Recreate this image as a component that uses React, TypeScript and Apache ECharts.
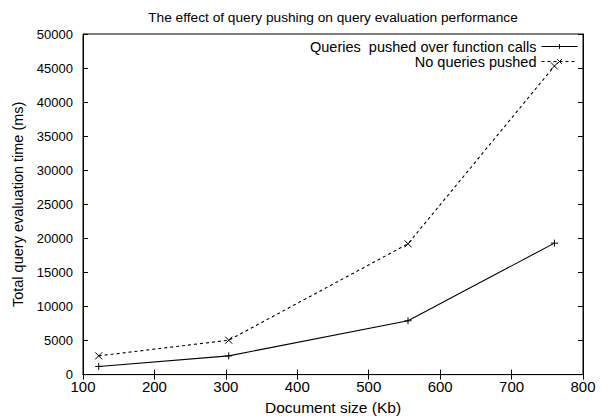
import React, { useEffect, useRef } from "react";
import * as echarts from "echarts";

const titleText = "The effect of query pushing on query evaluation performance";
const xName = "Document size (Kb)";
const yName = "Total query evaluation time (ms)";
const seriesNames = ["Queries  pushed over function calls", "No queries pushed"];
const docSizes = [122, 304, 555, 760];
const pushedValues = [1200, 2750, 7900, 19300];
const notPushedValues = [2750, 5050, 19200, 45300];

const plusSymbol = "path://M0,5L10,5M5,0L5,10";
const crossSymbol = "path://M0,0L10,10M0,10L10,0";

export default function App() {
  const ref = useRef<HTMLDivElement>(null);
  useEffect(() => {
    if (!ref.current) return;
    const chart = echarts.init(ref.current, null, { renderer: "svg" });
    const font = "'Liberation Sans', Arial, Helvetica, sans-serif";
    const axisCommon = {
      axisLine: { lineStyle: { color: "#000", width: 1 } },
      axisTick: { inside: true, length: 5, lineStyle: { color: "#000" } },
      splitLine: { show: false },
    };
    chart.setOption({
      animation: false,
      backgroundColor: "#fff",
      textStyle: { fontFamily: font, color: "#000" },
      title: {
        text: titleText,
        left: 333,
        textAlign: "center",
        top: 10,
        padding: 0,
        textStyle: { fontSize: 13.7, fontWeight: "normal", color: "#000", fontFamily: font },
      },
      legend: {
        orient: "vertical",
        right: 32,
        top: 39,
        padding: 0,
        align: "right",
        itemWidth: 36,
        itemHeight: 6,
        itemGap: 0,
        lineStyle: { width: 1 },
        itemStyle: { borderWidth: 1 },
        textStyle: { fontSize: 14.5, lineHeight: 12, color: "#000", fontFamily: font },
        data: seriesNames,
      },
      grid: {
        left: 83,
        right: 27,
        top: 34,
        bottom: 39,
        show: true,
        borderColor: "#000",
        borderWidth: 1,
      },
      xAxis: [
        {
          type: "value",
          min: 100,
          max: 800,
          interval: 100,
          name: xName,
          nameLocation: "middle",
          nameGap: 22,
          nameTextStyle: { fontSize: 15.5, color: "#000", fontFamily: font },
          axisLabel: { fontSize: 15, lineHeight: 12, color: "#000", fontFamily: font, margin: 6 },
          ...axisCommon,
        },
        {
          type: "value",
          position: "top",
          min: 100,
          max: 800,
          interval: 100,
          axisLabel: { show: false },
          ...axisCommon,
        },
      ],
      yAxis: [
        {
          type: "value",
          min: 0,
          max: 50000,
          interval: 5000,
          name: yName,
          nameLocation: "middle",
          nameGap: 54,
          nameTextStyle: { fontSize: 14.5, color: "#000", fontFamily: font },
          axisLabel: {
            fontSize: 13,
            lineHeight: 9,
            color: "#000",
            fontFamily: font,
            margin: 10,
            formatter: (v: number) => String(v),
          },
          ...axisCommon,
        },
        {
          type: "value",
          position: "right",
          min: 0,
          max: 50000,
          interval: 5000,
          axisLabel: { show: false },
          ...axisCommon,
        },
      ],
      series: [
        {
          name: seriesNames[0],
          type: "line",
          data: docSizes.map((x, i) => [x, pushedValues[i]]),
          symbol: plusSymbol,
          symbolSize: 7,
          lineStyle: { color: "#000", width: 1.1, type: "solid" },
          itemStyle: { color: "#000", borderColor: "#000", borderWidth: 1 },
        },
        {
          name: seriesNames[1],
          type: "line",
          data: docSizes.map((x, i) => [x, notPushedValues[i]]),
          symbol: crossSymbol,
          symbolSize: 7,
          lineStyle: { color: "#000", width: 1.1, type: [3, 3] },
          itemStyle: { color: "#000", borderColor: "#000", borderWidth: 1 },
        },
      ],
    });
    return () => chart.dispose();
  }, []);
  return (
    <div
      ref={ref}
      style={{ position: "fixed", left: 0, top: 0, width: 610, height: 420 }}
    />
  );
}
